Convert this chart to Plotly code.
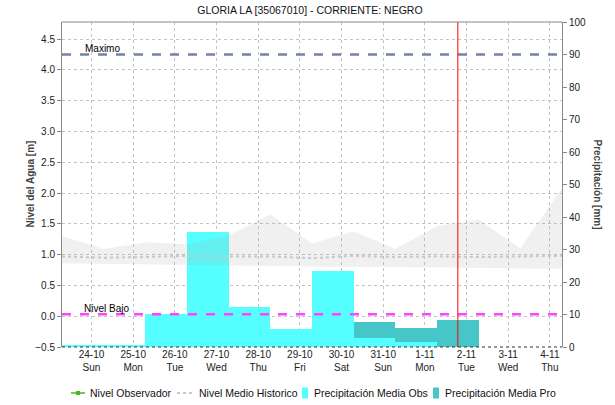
import plotly.graph_objects as go

# ---------------- data ----------------
title_text = "GLORIA LA [35067010] - CORRIENTE: NEGRO"

# historic band / mean (left axis, m), sampled each day at 07:00
hist_dates = ["2021-10-23 07:00", "2021-10-24 07:00", "2021-10-25 07:00", "2021-10-26 07:00",
              "2021-10-27 07:00", "2021-10-28 07:00", "2021-10-29 07:00", "2021-10-30 07:00",
              "2021-10-31 07:00", "2021-11-01 07:00", "2021-11-02 07:00", "2021-11-03 07:00",
              "2021-11-04 07:00"]
hist_max = [1.30, 1.09, 1.20, 1.17, 1.31, 1.65, 1.18, 1.38, 1.09, 1.46, 1.57, 1.10, 2.08]
hist_min = [0.86, 0.85, 0.84, 0.84, 0.83, 0.82, 0.81, 0.80, 0.80, 0.79, 0.78, 0.78, 0.77]
hist_mean = [0.97, 0.95, 0.96, 0.98, 0.97, 0.97, 0.94, 0.98, 0.96, 0.97, 0.96, 0.97, 0.98]

# observed level (no data in the period)
obs_level_dates = []
obs_level_vals = []

# precipitation (right axis, mm), daily from 07:00
precip_obs_dates = ["2021-10-23 07:00", "2021-10-24 07:00", "2021-10-25 07:00", "2021-10-26 07:00",
                    "2021-10-27 07:00", "2021-10-28 07:00", "2021-10-29 07:00", "2021-10-30 07:00",
                    "2021-10-31 07:00"]
precip_obs = [0.4, 0.4, 10.3, 35.4, 12.3, 5.5, 23.4, 2.8, 1.5]
precip_pro_dates = ["2021-10-30 07:00", "2021-10-31 07:00", "2021-11-01 07:00"]
precip_pro = [7.7, 5.8, 8.3]

nivel_maximo = 4.25
nivel_bajo = 0.03
now_marker = "2021-11-01 19:00"

tick_dates = ["2021-10-24", "2021-10-25", "2021-10-26", "2021-10-27", "2021-10-28", "2021-10-29",
              "2021-10-30", "2021-10-31", "2021-11-01", "2021-11-02", "2021-11-03", "2021-11-04"]
tick_day = ["24-10", "25-10", "26-10", "27-10", "28-10", "29-10",
            "30-10", "31-10", "1-11", "2-11", "3-11", "4-11"]
tick_wd = ["Sun", "Mon", "Tue", "Wed", "Thu", "Fri", "Sat", "Sun", "Mon", "Tue", "Wed", "Thu"]
tick_text = [f"{d}<br>{w}" for d, w in zip(tick_day, tick_wd)]

legend_names = ["Nivel Observador", "Nivel Medio Historico",
                "Precipitación Media Obs", "Precipitación Media Pro"]

x_range = ["2021-10-23 07:00", "2021-11-04 07:00"]
y_left_range = [-0.5, 4.776]
y_right_range = [0, 100]

FONT = "Liberation Sans"
DAY_MS = 86400000
COL_OBS = "#55FFFF"
COL_PRO = "#46C6C6"
COL_GREEN = "#44BB22"
COL_MEAN = "#C8C8C8"

# full-window figure; the page margin is removed by a post script
W, H = 615, 405
ML, MR, MT, MB = 62, 53, 22, 58
PW, PH = W - ML - MR, H - MT - MB


def px(xp):
    """window pixel x -> paper x"""
    return (xp - ML) / PW


def py(yp):
    """window pixel y -> paper y"""
    return (H - MB - yp) / PH


fig = go.Figure()

# precipitation bars (primary y axis, on the right)
fig.add_trace(go.Bar(
    x=precip_pro_dates, y=precip_pro, width=DAY_MS, offset=0,
    marker=dict(color=COL_PRO, line=dict(width=0)),
    name=legend_names[3], yaxis="y", showlegend=False))
fig.add_trace(go.Bar(
    x=precip_obs_dates, y=precip_obs, width=DAY_MS, offset=0,
    marker=dict(color=COL_OBS, line=dict(width=0)),
    name=legend_names[2], yaxis="y", showlegend=False))

# historic band (left axis, overlaying, drawn above bars)
fig.add_trace(go.Scatter(
    x=hist_dates, y=hist_min, mode="lines", line=dict(width=0),
    yaxis="y2", showlegend=False, hoverinfo="skip"))
fig.add_trace(go.Scatter(
    x=hist_dates, y=hist_max, mode="lines", line=dict(width=0),
    fill="tonexty", fillcolor="rgba(170,170,170,0.18)",
    yaxis="y2", showlegend=False, hoverinfo="skip"))

fig.add_trace(go.Scatter(
    x=obs_level_dates if obs_level_dates else [None], y=obs_level_vals if obs_level_vals else [None],
    mode="lines+markers", line=dict(color=COL_GREEN, width=1.5),
    marker=dict(symbol="square", size=5, color=COL_GREEN),
    name=legend_names[0], yaxis="y2", showlegend=False))
fig.add_trace(go.Scatter(
    x=hist_dates, y=hist_mean, mode="lines",
    line=dict(color=COL_MEAN, width=2, dash="dot"),
    name=legend_names[1], yaxis="y2", showlegend=False))

shapes = [
    dict(type="line", xref="paper", x0=0, x1=1, yref="y2", y0=nivel_maximo, y1=nivel_maximo,
         line=dict(color="#7282A8", width=2.5, dash="dash")),
    dict(type="line", xref="paper", x0=0, x1=1, yref="y2", y0=nivel_bajo, y1=nivel_bajo,
         line=dict(color="#FF44FF", width=2.5, dash="dash")),
    dict(type="line", xref="x", x0=now_marker, x1=now_marker, yref="paper", y0=0, y1=1,
         line=dict(color="#FF0000", width=1)),
    dict(type="line", xref="paper", x0=0, x1=1, yref="paper", y0=1, y1=1,
         line=dict(color="#888888", width=1)),
    dict(type="line", xref="paper", x0=0, x1=1, yref="paper", y0=0, y1=0,
         line=dict(color="#333333", width=1, dash="dot")),
]

# hand-made legend (symbols)
LEG_Y = 393
shapes += [
    dict(type="line", xref="paper", yref="paper", x0=px(71), x1=px(85), y0=py(LEG_Y), y1=py(LEG_Y),
         line=dict(color=COL_GREEN, width=1.5)),
    dict(type="rect", xref="paper", yref="paper", x0=px(76), x1=px(80), y0=py(LEG_Y + 2), y1=py(LEG_Y - 2),
         line=dict(width=0), fillcolor=COL_GREEN),
    dict(type="line", xref="paper", yref="paper", x0=px(177), x1=px(192), y0=py(LEG_Y), y1=py(LEG_Y),
         line=dict(color=COL_MEAN, width=2, dash="dot")),
    dict(type="rect", xref="paper", yref="paper", x0=px(302), x1=px(308), y0=py(LEG_Y + 5.5), y1=py(LEG_Y - 5.5),
         line=dict(width=0), fillcolor=COL_OBS),
    dict(type="rect", xref="paper", yref="paper", x0=px(433), x1=px(439), y0=py(LEG_Y + 5.5), y1=py(LEG_Y - 5.5),
         line=dict(width=0), fillcolor=COL_PRO),
]

annotations = [
    dict(text="Maximo", xref="paper", x=px(83), yref="y2", y=nivel_maximo, yanchor="bottom",
         xanchor="left", showarrow=False, font=dict(size=10, color="#000000", family=FONT), yshift=-2),
    dict(text="Nivel Bajo", xref="paper", x=px(82), yref="y2", y=nivel_bajo, yanchor="bottom",
         xanchor="left", showarrow=False, font=dict(size=10, color="#000000", family=FONT), yshift=-2),
    dict(text="<b>Precipitación [mm]</b>", xref="paper", x=px(597), yref="paper", y=0.5, textangle=90,
         showarrow=False, xanchor="center", yanchor="middle",
         font=dict(size=10, color="#444444", family=FONT)),
    dict(text="<b>Nivel del Agua [m]</b>", xref="paper", x=px(30), yref="paper", y=0.5, textangle=-90,
         showarrow=False, xanchor="center", yanchor="middle",
         font=dict(size=10, color="#444444", family=FONT)),
]
# hand-made legend (labels)
for name, xl in zip(legend_names, [88, 197, 312, 443]):
    annotations.append(dict(text=name, xref="paper", x=px(xl), yref="paper", y=py(LEG_Y),
                            xanchor="left", yanchor="middle", showarrow=False,
                            font=dict(size=10.5, family=FONT, color="#111111")))

fig.update_layout(
    width=W, height=H,
    margin=dict(l=ML, r=MR, t=MT, b=MB, autoexpand=False),
    paper_bgcolor="white", plot_bgcolor="white",
    font=dict(family=FONT, size=10, color="#222222"),
    title=dict(text=title_text, x=310 / W, xanchor="center",
               y=1 - 10 / H, yanchor="middle",
               font=dict(size=10.5, color="#111111", family=FONT)),
    barmode="overlay", bargap=0,
    showlegend=False,
    xaxis=dict(type="date", range=x_range, tickvals=tick_dates, ticktext=tick_text,
               showgrid=True, gridcolor="#C4C4C4", griddash="dot", gridwidth=1,
               showline=False, ticks="", tickfont=dict(size=10, color="#222222"),
               zeroline=False, automargin=False),
    yaxis=dict(range=y_right_range, side="right", dtick=10, showgrid=False, zeroline=False,
               showline=True, linecolor="#888888", linewidth=1, ticks="outside", ticklen=4,
               tickcolor="#888888", tickfont=dict(size=10, color="#222222"), automargin=False),
    yaxis2=dict(range=y_left_range, side="left", overlaying="y", dtick=0.5, tick0=0,
                tickformat=".1f", showgrid=True, gridcolor="#C4C4C4", griddash="dot",
                zeroline=False, showline=True, linecolor="#888888", linewidth=1,
                ticks="outside", ticklen=4, tickcolor="#888888",
                tickfont=dict(size=10, color="#222222"), automargin=False),
    shapes=shapes,
    annotations=annotations,
)

fig.write_html("out.html", config={"displayModeBar": False},
               post_script="document.body.style.margin='0px';")
